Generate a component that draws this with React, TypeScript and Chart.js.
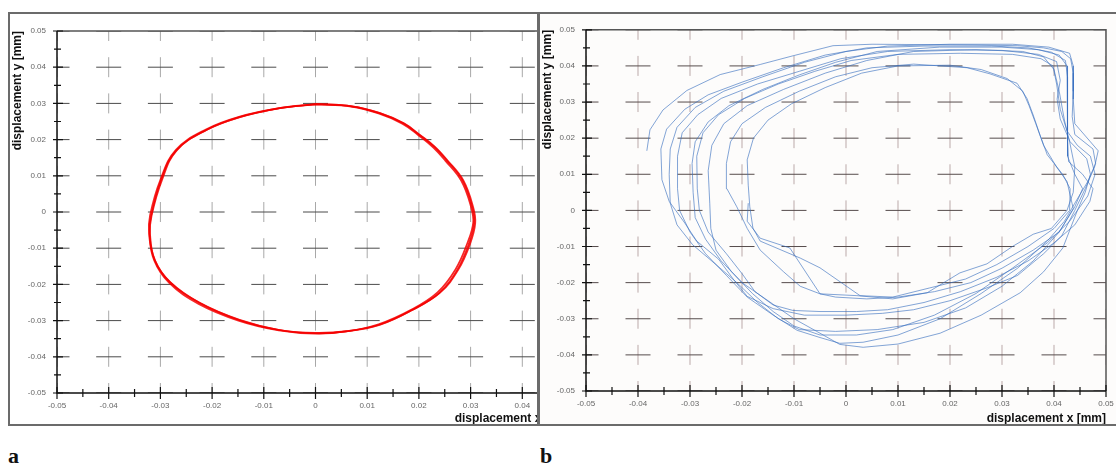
import React, { useEffect, useRef } from 'react';
import { Chart, registerables } from 'chart.js';

Chart.register(...registerables);

// ---------- axis data ----------
const tickValues = [-0.05, -0.04, -0.03, -0.02, -0.01, 0, 0.01, 0.02, 0.03, 0.04, 0.05];
const tickLabels = ['-0.05', '-0.04', '-0.03', '-0.02', '-0.01', '0', '0.01', '0.02', '0.03', '0.04', '0.05'];
const xTitle = 'displacement x [mm]';
const yTitle = 'displacement y [mm]';
const panelLabels = ['a', 'b'];

// ---------- panel a : red orbit (3 laps) ----------
const redLapA: [number, number][] = [
  [0.0, 0.0298], [0.007, 0.0292], [0.0124, 0.0273], [0.017, 0.0245], [0.0201, 0.0213], [0.023, 0.018],
  [0.0253, 0.0144], [0.0284, 0.0088], [0.0303, 0.0014], [0.0307, -0.003], [0.0297, -0.0086], [0.0274, -0.016],
  [0.0239, -0.0224], [0.0187, -0.0271], [0.0124, -0.0312], [0.006, -0.033], [0.0, -0.0335], [-0.007, -0.0326],
  [-0.0147, -0.0298], [-0.0224, -0.0251], [-0.0282, -0.0193], [-0.0311, -0.0133], [-0.032, -0.006], [-0.0317, -0.001],
  [-0.0297, 0.0088], [-0.0268, 0.0171], [-0.021, 0.0227], [-0.0147, 0.0262], [-0.007, 0.0287], [0.0, 0.0298],
];
const redLapB: [number, number][] = [
  [0.0, 0.0299], [0.0071, 0.0292], [0.0125, 0.0273], [0.0171, 0.0245], [0.0202, 0.0213], [0.0231, 0.018],
  [0.0255, 0.0143], [0.0286, 0.0087], [0.0305, 0.0013], [0.0309, -0.0031], [0.0299, -0.0088], [0.0276, -0.016],
  [0.0241, -0.0223], [0.0189, -0.0269], [0.0126, -0.031], [0.0061, -0.0329], [0.0, -0.0334], [-0.0069, -0.0326],
  [-0.0146, -0.0299], [-0.0223, -0.0252], [-0.0281, -0.0194], [-0.031, -0.0135], [-0.0321, -0.0062], [-0.0318, -0.0011],
  [-0.0299, 0.0087], [-0.027, 0.0169], [-0.0212, 0.0226], [-0.0148, 0.0261], [-0.0071, 0.0286], [0.0, 0.0298],
];
const redLapC: [number, number][] = [
  [0.0, 0.0297], [0.0069, 0.0291], [0.0122, 0.0272], [0.0168, 0.0244], [0.0199, 0.0212], [0.0228, 0.0178],
  [0.0251, 0.0142], [0.0282, 0.0086], [0.0301, 0.0013], [0.0305, -0.003], [0.0294, -0.0085], [0.0271, -0.0158],
  [0.0236, -0.0222], [0.0185, -0.027], [0.0122, -0.031], [0.0059, -0.033], [0.0, -0.0336], [-0.0071, -0.0327],
  [-0.0149, -0.03], [-0.0226, -0.0254], [-0.0283, -0.0196], [-0.0312, -0.0134], [-0.0322, -0.0059], [-0.032, -0.0009],
  [-0.03, 0.0089], [-0.027, 0.0172], [-0.0212, 0.0228], [-0.0148, 0.0263], [-0.007, 0.0287], [0.0, 0.0297],
];

// ---------- panel b : blue orbit (9 laps) ----------
const blueLap1: [number, number][] = [
  [-0.0383, 0.0165], [-0.0377, 0.0223], [-0.0352, 0.0278], [-0.0306, 0.0332], [-0.0242, 0.0376], [-0.0165, 0.0404],
  [-0.0102, 0.0428], [-0.0025, 0.0456], [0.005, 0.046], [0.015, 0.0459], [0.025, 0.0458], [0.033, 0.0456],
  [0.038, 0.045], [0.0415, 0.044], [0.0432, 0.042], [0.0437, 0.038], [0.0437, 0.0308], [0.044, 0.024],
  [0.047, 0.019], [0.0485, 0.0165], [0.0478, 0.012], [0.046, 0.006], [0.044, 0.0], [0.0415, -0.007],
  [0.038, -0.012], [0.033, -0.018], [0.027, -0.0215], [0.02, -0.025], [0.013, -0.0275], [0.007, -0.0285],
  [0.0, -0.029], [-0.008, -0.029], [-0.014, -0.0272], [-0.019, -0.0238], [-0.0217, -0.019], [-0.0245, -0.0135],
  [-0.0287, -0.0085], [-0.031, -0.0035], [-0.034, 0.0025], [-0.0354, 0.0085],
];
const blueLap2: [number, number][] = [
  [-0.0354, 0.0085], [-0.0356, 0.017], [-0.0345, 0.0225], [-0.031, 0.028], [-0.0265, 0.032], [-0.02, 0.0355],
  [-0.012, 0.0395], [-0.004, 0.043], [0.004, 0.045], [0.015, 0.0455], [0.028, 0.0455], [0.035, 0.045],
  [0.0395, 0.0438], [0.0422, 0.0415], [0.0426, 0.037], [0.0426, 0.025], [0.0426, 0.015], [0.044, 0.01],
  [0.0455, 0.006], [0.044, 0.001], [0.041, -0.006], [0.036, -0.014], [0.03, -0.021], [0.023, -0.027],
  [0.015, -0.031], [0.006, -0.033], [-0.002, -0.0335], [-0.009, -0.033], [-0.013, -0.03], [-0.017, -0.0255],
  [-0.021, -0.02], [-0.025, -0.015], [-0.0295, -0.0095], [-0.0325, -0.004], [-0.0338, 0.002],
];
const blueLap3: [number, number][] = [
  [-0.0338, 0.002], [-0.034, 0.01], [-0.0338, 0.017], [-0.0325, 0.023], [-0.029, 0.0285], [-0.0235, 0.033],
  [-0.016, 0.037], [-0.008, 0.041], [0.0, 0.044], [0.008, 0.0455], [0.02, 0.046], [0.032, 0.046],
  [0.039, 0.0452], [0.043, 0.0435], [0.0437, 0.04], [0.0437, 0.033], [0.0435, 0.026], [0.044, 0.021],
  [0.0475, 0.017], [0.048, 0.013], [0.0465, 0.008], [0.044, 0.002], [0.042, -0.003], [0.0387, -0.0085],
  [0.033, -0.016], [0.026, -0.023], [0.0181, -0.03], [0.01, -0.0345], [0.0033, -0.0365], [-0.0012, -0.0368],
  [-0.005, -0.0352], [-0.0094, -0.0332], [-0.014, -0.029], [-0.019, -0.024], [-0.023, -0.018], [-0.027, -0.012],
  [-0.03, -0.006], [-0.032, 0.0], [-0.0324, 0.006],
];
const blueLap4: [number, number][] = [
  [-0.0324, 0.006], [-0.0324, 0.015], [-0.0315, 0.0215], [-0.0285, 0.0265], [-0.024, 0.031], [-0.017, 0.035],
  [-0.009, 0.0385], [-0.001, 0.042], [0.008, 0.044], [0.02, 0.0445], [0.03, 0.0443], [0.037, 0.0432],
  [0.0405, 0.0412], [0.0412, 0.036], [0.0406, 0.0308], [0.0412, 0.0253], [0.0431, 0.019], [0.0463, 0.0143],
  [0.047, 0.01], [0.046, 0.005], [0.0445, 0.0], [0.0417, -0.0104], [0.038, -0.017], [0.0335, -0.0228],
  [0.026, -0.029], [0.0181, -0.034], [0.01, -0.037], [0.0033, -0.0379], [-0.0012, -0.0371], [-0.005, -0.034],
  [-0.01, -0.03], [-0.015, -0.025], [-0.02, -0.02], [-0.024, -0.014], [-0.027, -0.008], [-0.029, -0.002],
  [-0.0294, 0.005],
];
const blueLap5: [number, number][] = [
  [-0.0294, 0.005], [-0.0296, 0.013], [-0.029, 0.019], [-0.0265, 0.0245], [-0.0225, 0.029], [-0.016, 0.0335],
  [-0.009, 0.0375], [-0.002, 0.041], [0.006, 0.044], [0.018, 0.0452], [0.03, 0.0452], [0.037, 0.0445],
  [0.041, 0.043], [0.0425, 0.04], [0.0426, 0.033], [0.0426, 0.02], [0.0428, 0.0135], [0.0455, 0.01],
  [0.0475, 0.006], [0.0469, 0.0025], [0.044, -0.004], [0.04, -0.009], [0.035, -0.014], [0.029, -0.0185],
  [0.022, -0.0225], [0.015, -0.0255], [0.008, -0.0275], [0.002, -0.028], [-0.005, -0.028], [-0.0102, -0.0277],
  [-0.014, -0.0262], [-0.0175, -0.0225], [-0.02, -0.0175], [-0.023, -0.012], [-0.0265, -0.006], [-0.0282, 0.0],
  [-0.0286, 0.006],
];
const blueLap6: [number, number][] = [
  [-0.0286, 0.006], [-0.0287, 0.015], [-0.0275, 0.0215], [-0.0245, 0.0265], [-0.0195, 0.031], [-0.013, 0.035],
  [-0.006, 0.0385], [0.001, 0.0415], [0.01, 0.0432], [0.022, 0.0435], [0.032, 0.0432], [0.0375, 0.042],
  [0.0398, 0.04], [0.0405, 0.035], [0.0412, 0.028], [0.0425, 0.022], [0.0445, 0.018], [0.047, 0.015],
  [0.0479, 0.01], [0.0465, 0.004], [0.043, -0.003], [0.0387, -0.009], [0.032, -0.016], [0.025, -0.023],
  [0.017, -0.029], [0.009, -0.033], [0.002, -0.0345], [-0.005, -0.0345], [-0.01, -0.032], [-0.014, -0.028],
  [-0.018, -0.023], [-0.022, -0.017], [-0.025, -0.011], [-0.026, -0.005], [-0.0262, 0.002],
];
const blueLap7: [number, number][] = [
  [-0.0262, 0.002], [-0.0265, 0.011], [-0.0258, 0.018], [-0.0235, 0.024], [-0.019, 0.029], [-0.012, 0.0335],
  [-0.004, 0.038], [0.004, 0.0415], [0.013, 0.044], [0.025, 0.0445], [0.034, 0.044], [0.038, 0.0425],
  [0.04, 0.039], [0.041, 0.033], [0.042, 0.025], [0.043, 0.019], [0.044, 0.012], [0.0437, 0.005],
  [0.0425, 0.0], [0.0395, -0.005], [0.036, -0.0066], [0.032, -0.01], [0.0271, -0.0148], [0.0219, -0.0173],
  [0.0156, -0.0228], [0.009, -0.0245], [0.0021, -0.0236], [-0.005, -0.0231], [-0.0088, -0.021], [-0.012, -0.017],
  [-0.0165, -0.011], [-0.019, -0.005], [-0.021, 0.001], [-0.0229, 0.006],
];
const blueLap8: [number, number][] = [
  [-0.0229, 0.006], [-0.023, 0.013], [-0.0222, 0.019], [-0.02, 0.024], [-0.0155, 0.0285], [-0.009, 0.033],
  [-0.002, 0.037], [0.005, 0.0395], [0.013, 0.0405], [0.0233, 0.0395], [0.0277, 0.0378], [0.0329, 0.0352],
  [0.0348, 0.031], [0.036, 0.0264], [0.0373, 0.0209], [0.0387, 0.0154], [0.0417, 0.0099], [0.0431, 0.006],
  [0.043, 0.0], [0.04, -0.005], [0.035, -0.01], [0.029, -0.015], [0.023, -0.019], [0.016, -0.0215],
  [0.009, -0.024], [0.0027, -0.0236], [-0.005, -0.0159], [-0.0088, -0.0132], [-0.0165, -0.0085], [-0.0179, -0.0049],
  [-0.0185, 0.001], [-0.0188, 0.007],
];
const blueLap9: [number, number][] = [
  [-0.0188, 0.007], [-0.019, 0.014], [-0.0178, 0.02], [-0.015, 0.025], [-0.0105, 0.0295], [-0.004, 0.034],
  [0.003, 0.038], [0.01, 0.04], [0.02, 0.0402], [0.026, 0.039], [0.031, 0.0365], [0.034, 0.033],
  [0.0352, 0.029], [0.0365, 0.024], [0.038, 0.018], [0.0405, 0.012], [0.0425, 0.008], [0.0437, 0.0005],
  [0.041, -0.006], [0.036, -0.011], [0.03, -0.016], [0.024, -0.02], [0.017, -0.0225], [0.01, -0.024],
  [0.004, -0.0245], [-0.002, -0.024], [-0.005, -0.0231], [-0.0108, -0.0104], [-0.0165, -0.0077], [-0.019, -0.003],
  [-0.0188, 0.002],
];

const redLaps = [redLapA, redLapB, redLapC];
const blueLaps = [blueLap1, blueLap2, blueLap3, blueLap4, blueLap5, blueLap6, blueLap7, blueLap8, blueLap9];

// ---------- plugin: cross markers, frame, axes and ticks ----------
const crossPlugin = {
  id: 'crossGrid',
  beforeDatasetsDraw(chart: any, _args: any, opts: any) {
    const { ctx, chartArea: ca, scales } = chart;
    const xs = scales.x, ys = scales.y;
    ctx.save();
    ctx.beginPath();
    ctx.rect(ca.left, ca.top, ca.right - ca.left, ca.bottom - ca.top);
    ctx.clip();
    ctx.lineWidth = 1;
    for (const xv of tickValues) {
      for (const yv of tickValues) {
        const px = xs.getPixelForValue(xv);
        const py = ys.getPixelForValue(yv);
        ctx.strokeStyle = opts.vColor;
        ctx.beginPath();
        ctx.moveTo(px, py - 10);
        ctx.lineTo(px, py + 10);
        ctx.stroke();
        ctx.strokeStyle = opts.hColor;
        ctx.beginPath();
        ctx.moveTo(px - 12.5, py);
        ctx.lineTo(px + 12.5, py);
        ctx.stroke();
      }
    }
    ctx.restore();
  },
  afterDatasetsDraw(chart: any) {
    const { ctx, chartArea: ca, scales } = chart;
    const xs = scales.x, ys = scales.y;
    ctx.save();
    // top and right frame
    ctx.strokeStyle = '#555';
    ctx.lineWidth = 1.5;
    ctx.beginPath();
    ctx.moveTo(ca.left, ca.top);
    ctx.lineTo(ca.right, ca.top);
    ctx.lineTo(ca.right, ca.bottom);
    ctx.stroke();
    // axes
    ctx.strokeStyle = '#111';
    ctx.lineWidth = 1.5;
    ctx.beginPath();
    ctx.moveTo(ca.left, ca.top);
    ctx.lineTo(ca.left, ca.bottom);
    ctx.lineTo(ca.right, ca.bottom);
    ctx.stroke();
    ctx.lineWidth = 1.2;
    ctx.beginPath();
    for (let i = 0; i < tickValues.length; i++) {
      const py = ys.getPixelForValue(tickValues[i]);
      ctx.moveTo(ca.left - 4, py);
      ctx.lineTo(ca.left + 6, py);
      const px = xs.getPixelForValue(tickValues[i]);
      ctx.moveTo(px, ca.bottom - 6);
      ctx.lineTo(px, ca.bottom + 6);
      if (i < tickValues.length - 1) {
        const pym = (py + ys.getPixelForValue(tickValues[i + 1])) / 2;
        ctx.moveTo(ca.left - 3, pym);
        ctx.lineTo(ca.left + 4, pym);
        const pxm = (px + xs.getPixelForValue(tickValues[i + 1])) / 2;
        ctx.moveTo(pxm, ca.bottom - 4);
        ctx.lineTo(pxm, ca.bottom + 4);
      }
    }
    ctx.stroke();
    ctx.restore();
  },
};

type PlotProps = {
  laps: [number, number][][];
  color: string;
  width: number;
  tension: number;
  canvasW: number;
  canvasH: number;
  yAxisW: number;
  xAxisH: number;
  padTop: number;
  padRight: number;
  hColor: string;
  vColor: string;
};

function OrbitPlot(p: PlotProps) {
  const ref = useRef<HTMLCanvasElement | null>(null);
  useEffect(() => {
    if (!ref.current) return;
    const tickFont = { family: '"Liberation Sans", Arial, sans-serif', size: 8 };
    const titleFont = { family: '"Liberation Sans", Arial, sans-serif', size: 12, weight: 'bold' as const };
    const chart = new Chart(ref.current, {
      type: 'scatter',
      data: {
        datasets: p.laps.map((lap) => ({
          data: lap.map(([x, y]) => ({ x, y })),
          showLine: true,
          borderColor: p.color,
          borderWidth: p.width,
          pointRadius: 0,
          tension: p.tension,
          fill: false,
        })),
      },
      options: {
        responsive: false,
        animation: false,
        events: [],
        layout: { padding: { top: p.padTop, right: p.padRight, left: 0, bottom: 0 } },
        plugins: {
          legend: { display: false },
          tooltip: { enabled: false },
          crossGrid: { hColor: p.hColor, vColor: p.vColor },
        } as any,
        scales: {
          x: {
            type: 'linear',
            position: 'bottom',
            min: -0.05,
            max: 0.05,
            grid: { display: false, drawTicks: false },
            border: { display: false },
            afterBuildTicks: (s: any) => { s.ticks = tickValues.map((v) => ({ value: v })); },
            afterFit: (s: any) => { s.height = p.xAxisH; },
            ticks: {
              autoSkip: false,
              maxRotation: 0,
              padding: 8,
              color: '#666',
              font: tickFont,
              callback: (_v: any, i: number) => tickLabels[i],
            },
            title: { display: true, text: xTitle, align: 'end', color: '#111', font: titleFont, padding: 0 },
          },
          y: {
            type: 'linear',
            position: 'left',
            min: -0.05,
            max: 0.05,
            grid: { display: false, drawTicks: false },
            border: { display: false },
            afterBuildTicks: (s: any) => { s.ticks = tickValues.map((v) => ({ value: v })); },
            afterFit: (s: any) => { s.width = p.yAxisW; },
            ticks: {
              autoSkip: false,
              padding: 11,
              color: '#666',
              font: tickFont,
              callback: (_v: any, i: number) => tickLabels[i],
            },
            title: { display: true, text: yTitle, align: 'end', color: '#111', font: titleFont, padding: 0 },
          },
        },
      },
      plugins: [crossPlugin as any],
    });
    return () => chart.destroy();
  }, []);
  return (
    <canvas
      ref={ref}
      width={p.canvasW}
      height={p.canvasH}
      style={{ position: 'absolute', left: 0, top: 0, width: p.canvasW, height: p.canvasH }}
    />
  );
}

export default function App() {
  const labelStyle: React.CSSProperties = {
    position: 'absolute',
    top: 445,
    font: 'bold 22px "Liberation Serif", "DejaVu Serif", serif',
    lineHeight: '22px',
    color: '#111',
  };
  return (
    <div style={{ position: 'absolute', left: 0, top: 0, width: 1116, height: 464, overflow: 'hidden', background: '#fff' }}>
      <div
        style={{
          position: 'absolute', left: 8, top: 12, width: 531, height: 414,
          border: '2px solid #6b6b6b', boxSizing: 'border-box', overflow: 'hidden', background: '#fff',
        }}
      >
        <OrbitPlot
          laps={redLaps}
          color="rgba(245,0,0,0.85)"
          width={1.7}
          tension={0.4}
          canvasW={600}
          canvasH={412}
          yAxisW={47}
          xAxisH={33}
          padTop={17}
          padRight={36}
          hColor="#4a4a4a"
          vColor="#a8a8a8"
        />
      </div>
      <div
        style={{
          position: 'absolute', left: 538, top: 12, width: 590, height: 414,
          border: '2px solid #6b6b6b', boxSizing: 'border-box', overflow: 'hidden', background: '#fdfcfb',
        }}
      >
        <OrbitPlot
          laps={blueLaps}
          color="rgba(55,110,190,0.62)"
          width={1}
          tension={0}
          canvasW={600}
          canvasH={412}
          yAxisW={46}
          xAxisH={35}
          padTop={13}
          padRight={34}
          hColor="#564c4c"
          vColor="#bba9a9"
        />
      </div>
      <div style={{ ...labelStyle, left: 8 }}>{panelLabels[0]}</div>
      <div style={{ ...labelStyle, left: 540 }}>{panelLabels[1]}</div>
    </div>
  );
}
